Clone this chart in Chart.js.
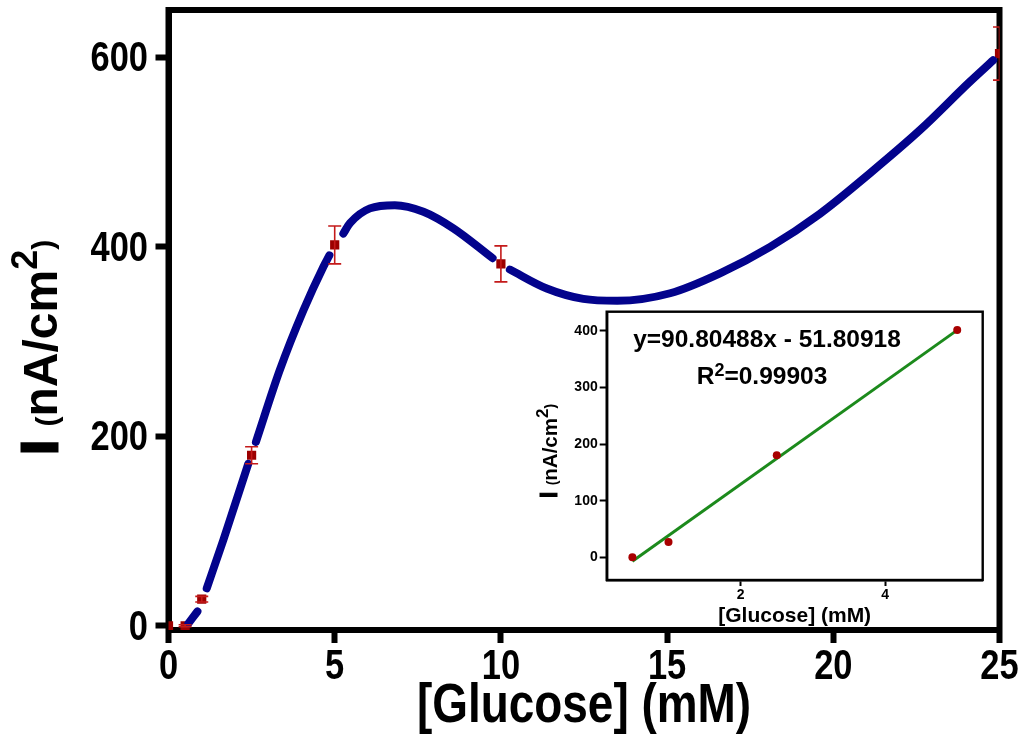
<!DOCTYPE html>
<html>
<head>
<meta charset="utf-8">
<script src="https://cdn.jsdelivr.net/npm/chart.js@4/dist/chart.umd.min.js"></script>
<style>
  html, body { margin: 0; padding: 0; background: #fff; }
  #wrap { position: relative; width: 1024px; height: 754px; }
  #main { position: absolute; left: 0; top: 0; }
  #inset { position: absolute; left: 520px; top: 300px; }
</style>
</head>
<body>
<div id="wrap">
  <canvas id="main" width="1024" height="754"></canvas>
  <canvas id="inset" width="480" height="330"></canvas>
</div>
<script>
// Glucose calibration: current density vs concentration, with a linear-range inset.

// main plot
const xTicks = [0, 5, 10, 15, 20, 25];
const yTicks = [0, 200, 400, 600];
const concX = [0, 0.5, 1, 2.5, 5, 10, 25];
const currentY = [0, 0, 28, 180, 402, 382, 604];
const currentErr = [0, 1, 3, 9, 20, 19, 28];
// smooth fitted curve (null = gap around a marker)
const curveX = [0.6, 0.87, 1.0, 1.15, 1.65, 2.4, 2.5, 2.63, 3.35, 4.06, 4.66, 4.84, 5.0, 5.26, 5.46, 6.06, 6.81, 7.67, 8.57, 9.75, 10.0, 10.27, 11.38, 12.48, 13.5, 15.09, 16.59, 18.1, 19.6, 21.1, 22.6, 24.1, 24.81];
const curveY = [2.5, 15, null, 39.5, 90.5, 171, null, 194, 270, 333, 379, 391, null, 414, 425, 440.6, 444, 437, 419.5, 388, null, 376, 356, 345, 343, 351, 372, 400, 435, 477.6, 523, 574, 597];

// inset: linear range
const insetXTicks = [2, 4];
const insetYTicks = [0, 100, 200, 300, 400];
const linX = [0.5, 1, 2.5, 5];
const linY = [0, 27, 180, 401];
const lineX = [0.5, 5];
const lineY = [-7, 401];

const SANS = "'Liberation Sans', Arial, sans-serif";
const SQUEEZE = 0.82; // no narrow face installed, so squeeze Liberation Sans Bold

function pts(xs, ys) {
  return xs.map((x, i) => ({ x: x, y: ys[i] }));
}

function squeezedText(ctx, text, x, y, size, align) {
  ctx.save();
  ctx.translate(x, y);
  ctx.scale(SQUEEZE, 1);
  ctx.font = "bold " + size + "px " + SANS;
  ctx.textAlign = align;
  ctx.textBaseline = "alphabetic";
  ctx.fillText(text, 0, 0);
  ctx.restore();
}

// draw a run of text pieces along the current x direction, centred on cx
function drawRuns(ctx, runs, cx, baseline, sx) {
  sx = sx || 1;
  let total = 0;
  runs.forEach((r) => { ctx.font = r.font; r.w = ctx.measureText(r.text).width; total += r.w; });
  ctx.save();
  ctx.translate(cx, baseline);
  ctx.scale(sx, 1);
  let x = -total / 2;
  ctx.textAlign = "left";
  ctx.textBaseline = "alphabetic";
  runs.forEach((r) => {
    ctx.font = r.font;
    ctx.fillText(r.text, x, -(r.rise || 0));
    if (r.stroke) {
      ctx.lineWidth = r.stroke;
      ctx.strokeStyle = ctx.fillStyle;
      ctx.strokeText(r.text, x, -(r.rise || 0));
    }
    x += r.w;
  });
  ctx.restore();
}

const errorBars = {
  id: "errorBars",
  afterDatasetDraw(chart, args) {
    if (args.index !== 0) return;
    const ctx = chart.ctx, xs = chart.scales.x, ys = chart.scales.y, a = chart.chartArea;
    ctx.save();
    ctx.beginPath();
    ctx.rect(a.left, a.top, a.right - a.left, a.bottom - a.top);
    ctx.clip();
    ctx.strokeStyle = "#c41a1a";
    ctx.lineWidth = 1.6;
    concX.forEach((x, i) => {
      if (!currentErr[i]) return;
      const px = xs.getPixelForValue(x);
      const top = ys.getPixelForValue(currentY[i] + currentErr[i]);
      const bot = ys.getPixelForValue(currentY[i] - currentErr[i]);
      ctx.beginPath();
      ctx.moveTo(px, top); ctx.lineTo(px, bot);
      ctx.moveTo(px - 6.5, top); ctx.lineTo(px + 6.5, top);
      ctx.moveTo(px - 6.5, bot); ctx.lineTo(px + 6.5, bot);
      ctx.stroke();
    });
    ctx.restore();
  }
};

const frame = {
  id: "frame",
  beforeDatasetsDraw(chart, args, opts) {
    const a = chart.chartArea, ctx = chart.ctx;
    ctx.save();
    ctx.strokeStyle = "#000";
    ctx.lineWidth = opts.width;
    ctx.lineJoin = "miter";
    ctx.strokeRect(a.left, a.top, a.right - a.left, a.bottom - a.top);
    ctx.restore();
  }
};

// tick labels and axis titles for the main plot
const mainText = {
  id: "mainText",
  afterDraw(chart) {
    const ctx = chart.ctx, a = chart.chartArea, xs = chart.scales.x, ys = chart.scales.y;
    ctx.save();
    ctx.fillStyle = "#000";
    xs.ticks.forEach((t) => {
      squeezedText(ctx, String(t.value), xs.getPixelForValue(t.value), 679, 42, "center");
    });
    ys.ticks.forEach((t) => {
      squeezedText(ctx, String(t.value), 148, ys.getPixelForValue(t.value) + 14, 42, "right");
    });
    drawRuns(ctx, [{ text: "[Glucose] (mM)", font: "bold 56px " + SANS }], (a.left + a.right) / 2, 722, SQUEEZE);
    ctx.translate(57, 347);
    ctx.rotate(-Math.PI / 2);
    drawRuns(ctx, [
      { text: "I ", font: "bold 50px " + SANS, stroke: 3 },
      { text: "(", font: "bold 30px " + SANS },
      { text: "nA/cm", font: "bold 48px " + SANS },
      { text: "2", font: "bold 36px " + SANS, rise: 20 },
      { text: ")", font: "bold 30px " + SANS, rise: 4 }
    ], 0, 0);
    ctx.restore();
  }
};

const insetDecor = {
  id: "insetDecor",
  beforeDatasetsDraw(chart) {
    const a = chart.chartArea, ctx = chart.ctx;
    ctx.save();
    ctx.strokeStyle = "#000";
    ctx.lineWidth = 2.4;
    ctx.strokeRect(a.left, a.top, a.right - a.left, a.bottom - a.top);
    ctx.restore();
  },
  afterDraw(chart) {
    const ctx = chart.ctx, a = chart.chartArea;
    ctx.save();
    ctx.fillStyle = "#000";
    drawRuns(ctx, [{ text: "y=90.80488x - 51.80918", font: "bold 24.5px " + SANS }], 247, 47);
    drawRuns(ctx, [
      { text: "R", font: "bold 24.5px " + SANS },
      { text: "2", font: "bold 18px " + SANS, rise: 8 },
      { text: "=0.99903", font: "bold 24.5px " + SANS }
    ], 242, 84);
    drawRuns(ctx, [{ text: "[Glucose] (mM)", font: "bold 21px " + SANS }], (a.left + a.right) / 2, 322);
    ctx.translate(37, 151);
    ctx.rotate(-Math.PI / 2);
    drawRuns(ctx, [
      { text: "I ", font: "bold 23px " + SANS, stroke: 1 },
      { text: "(", font: "bold 14px " + SANS },
      { text: "nA/cm", font: "bold 20.5px " + SANS },
      { text: "2", font: "bold 17px " + SANS, rise: 9 },
      { text: ")", font: "bold 14px " + SANS, rise: 2 }
    ], 0, 0);
    ctx.restore();
  }
};

new Chart(document.getElementById("main"), {
  type: "scatter",
  data: {
    datasets: [
      {
        data: pts(curveX, curveY),
        showLine: true,
        spanGaps: false,
        borderColor: "#03038c",
        borderWidth: 8,
        borderCapStyle: "round",
        cubicInterpolationMode: "monotone",
        pointRadius: 0
      },
      {
        data: pts(concX, currentY),
        pointStyle: "rect",
        pointRadius: 6.5,
        backgroundColor: "#9c0000",
        borderWidth: 0,
        clip: 0
      }
    ]
  },
  options: {
    responsive: false,
    animation: false,
    layout: { padding: { left: 0, top: 10, right: 24.5, bottom: 0 } },
    plugins: { legend: { display: false }, tooltip: { enabled: false }, frame: { width: 6 } },
    scales: {
      x: {
        type: "linear", min: 0, max: 25,
        afterBuildTicks: (s) => { s.ticks = xTicks.map((v) => ({ value: v })); },
        afterFit: (s) => { s.height = 124; },
        ticks: { display: false },
        grid: { drawOnChartArea: false, drawTicks: true, tickLength: 13, tickWidth: 6, tickColor: "#000" },
        border: { display: true, width: 6, color: "#000" }
      },
      y: {
        type: "linear", min: -4.5, max: 650,
        afterBuildTicks: (s) => { s.ticks = yTicks.map((v) => ({ value: v })); },
        afterFit: (s) => { s.width = 168.5; },
        ticks: { display: false },
        grid: { drawOnChartArea: false, drawTicks: true, tickLength: 13, tickWidth: 6, tickColor: "#000" },
        border: { display: true, width: 6, color: "#000" }
      }
    }
  },
  plugins: [frame, errorBars, mainText]
});

new Chart(document.getElementById("inset"), {
  type: "scatter",
  data: {
    datasets: [
      {
        data: pts(linX, linY),
        pointStyle: "circle",
        pointRadius: 4,
        backgroundColor: "#a80000",
        borderWidth: 0
      },
      {
        data: pts(lineX, lineY),
        showLine: true,
        borderColor: "#1c8a1c",
        borderWidth: 3,
        pointRadius: 0
      }
    ]
  },
  options: {
    responsive: false,
    animation: false,
    layout: { padding: { left: 0, top: 11.7, right: 17.3, bottom: 0 } },
    plugins: { legend: { display: false }, tooltip: { enabled: false } },
    scales: {
      x: {
        type: "linear", min: 0.144, max: 5.353,
        afterBuildTicks: (s) => { s.ticks = insetXTicks.map((v) => ({ value: v })); },
        afterFit: (s) => { s.height = 50; },
        ticks: { color: "#000", padding: 1, maxRotation: 0, font: { family: SANS, size: 14, weight: "bold" } },
        grid: { drawOnChartArea: false, drawTicks: true, tickLength: 6, tickWidth: 2, tickColor: "#000" },
        border: { display: true, width: 2.4, color: "#000" }
      },
      y: {
        type: "linear", min: -40, max: 433.5,
        afterBuildTicks: (s) => { s.ticks = insetYTicks.map((v) => ({ value: v })); },
        afterFit: (s) => { s.width = 86.7; },
        ticks: { color: "#000", padding: 2, font: { family: SANS, size: 14, weight: "bold" } },
        grid: { drawOnChartArea: false, drawTicks: true, tickLength: 7, tickWidth: 2, tickColor: "#000" },
        border: { display: true, width: 2.4, color: "#000" }
      }
    }
  },
  plugins: [insetDecor]
});
</script>
</body>
</html>
